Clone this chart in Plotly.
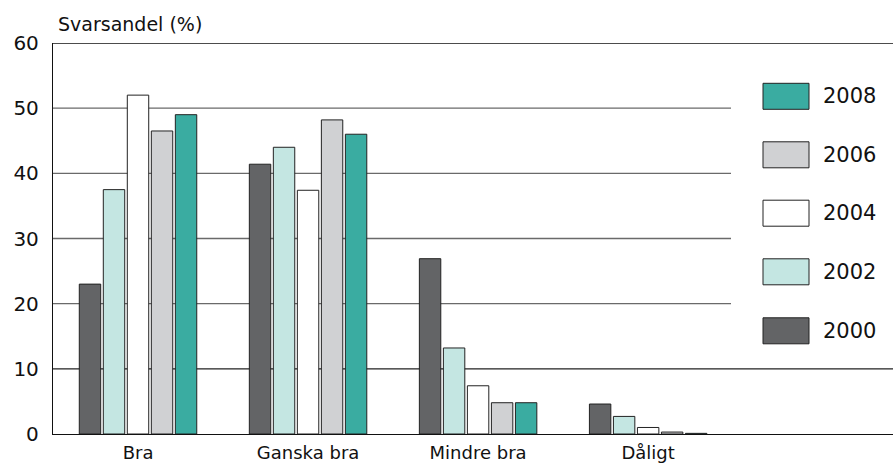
import plotly.graph_objects as go

categories = ["Bra", "Ganska bra", "Mindre bra", "Dåligt"]
years = ["2000", "2002", "2004", "2006", "2008"]
v2000 = [23.0, 41.4, 26.9, 4.6]
v2002 = [37.5, 44.0, 13.2, 2.7]
v2004 = [52.0, 37.4, 7.4, 1.0]
v2006 = [46.5, 48.2, 4.8, 0.3]
v2008 = [49.0, 46.0, 4.8, 0.1]
series = [v2000, v2002, v2004, v2006, v2008]
colors = ["#636466", "#c4e6e2", "#ffffff", "#d0d1d3", "#3aaca1"]
yticks = [0, 10, 20, 30, 40, 50, 60]

W, H = 893, 470
L, R, T, B = 53, 0, 43, 36
PW, PH = W - L - R, H - T - B

def px(x):
    return (x - L) / PW

def py(y):
    return (H - B - y) / PH

FONT = "DejaVu Sans, Liberation Sans, Arial, sans-serif"

fig = go.Figure()
for name, vals, col in zip(years, series, colors):
    fig.add_trace(go.Bar(
        x=categories, y=vals, name=name,
        marker=dict(color=col, line=dict(color="#222222", width=1)),
        showlegend=False,
    ))

shapes = []
for v in yticks[1:-1]:
    full = v == 10
    shapes.append(dict(type="line", xref="paper", yref="y", x0=0, x1=1 if full else px(731),
                       y0=v, y1=v, line=dict(color="#222222" if full else "#6a6a6a", width=1.3),
                       layer="below"))
shapes.append(dict(type="line", xref="paper", yref="y", x0=0, x1=1, y0=60, y1=60,
                   line=dict(color="#111111", width=1.3), layer="below"))

annotations = []
leg_centers = [330.8, 271.8, 213.2, 154.8, 96.3]
for name, col, cy in zip(years, colors, leg_centers):
    shapes.append(dict(type="rect", xref="paper", yref="paper",
                       x0=px(763), x1=px(809), y0=py(cy + 13), y1=py(cy - 13),
                       fillcolor=col, line=dict(color="#222222", width=1)))
    annotations.append(dict(text=name, xref="paper", yref="paper", x=px(821), y=py(cy),
                            xanchor="left", yanchor="middle", showarrow=False,
                            font=dict(size=21, color="#111111", family=FONT)))

annotations.append(dict(text="Svarsandel (%)", xref="paper", yref="paper",
                        x=px(56), y=py(24), xanchor="left", yanchor="middle",
                        showarrow=False, font=dict(size=19, color="#111111", family=FONT)))

fig.update_layout(
    width=W, height=H,
    margin=dict(l=L, r=R, t=T, b=B, pad=0),
    paper_bgcolor="white", plot_bgcolor="white",
    barmode="group", bargap=0.294, bargroupgap=0.108,
    font=dict(family=FONT, size=19, color="#111111"),
    shapes=shapes, annotations=annotations,
    xaxis=dict(range=[-0.5, 4.44], showgrid=False, zeroline=False,
               showline=True, linecolor="#111111", linewidth=1.3,
               ticks="", tickfont=dict(size=18), ticklabelstandoff=2),
    yaxis=dict(range=[0, 60], tickvals=yticks, showgrid=False, zeroline=False,
               showline=True, linecolor="#111111", linewidth=1.3,
               ticks="", tickfont=dict(size=20), ticklabelstandoff=9),
)

fig.write_html("out.html", config={"displayModeBar": False},
               post_script="document.body.style.margin='0px';document.body.style.overflow='hidden';")
